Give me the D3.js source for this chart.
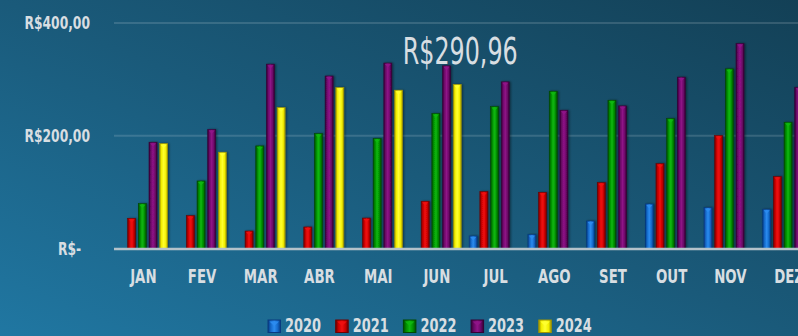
<!DOCTYPE html>
<html>
<head>
<meta charset="utf-8">
<script src="https://cdn.jsdelivr.net/npm/d3@7"></script>
<style>
  html, body { margin: 0; padding: 0; background: #1a5574; overflow: hidden; }
  svg { display: block; }
  text { font-family: "DejaVu Sans Condensed", "DejaVu Sans", sans-serif; font-stretch: condensed; fill: #d8dee2; }
</style>
</head>
<body>
<svg id="chart" width="798" height="336"></svg>
<script>
// Monthly totals per year (R$)
const months = ["JAN", "FEV", "MAR", "ABR", "MAI", "JUN", "JUL", "AGO", "SET", "OUT", "NOV", "DEZ"];
const years = ["2020", "2021", "2022", "2023", "2024"];
const v2020 = [null, null, null, null, null, null, 22.2, 24.5, 48.8, 79.0, 72.4, 69.6];
const v2021 = [53.6, 58.2, 31.0, 38.2, 54.0, 83.8, 100.8, 99.7, 116.8, 150.5, 200.3, 127.5];
const v2022 = [79.5, 119.8, 182.0, 203.8, 195.0, 239.3, 251.7, 279.0, 263.0, 230.4, 318.7, 224.0];
const v2023 = [188.5, 211.0, 327.0, 306.0, 329.0, 324.0, 295.6, 245.3, 253.0, 304.0, 363.6, 286.0];
const v2024 = [186.0, 170.8, 250.0, 285.5, 280.8, 290.96, null, null, null, null, null, null];
const yTicks = [0, 200, 400];
const highlight = { month: "JUN", year: "2024" };

const seriesValues = { "2020": v2020, "2021": v2021, "2022": v2022, "2023": v2023, "2024": v2024 };
const palette = {
  "2020": { light: "#2c8cf0", mid: "#1468c8", dark: "#083a80" },
  "2021": { light: "#f01010", mid: "#c80000", dark: "#6e0000" },
  "2022": { light: "#10b810", mid: "#008c00", dark: "#004a00" },
  "2023": { light: "#901488", mid: "#6a0866", dark: "#360034" },
  "2024": { light: "#ffff30", mid: "#f2ee00", dark: "#a09400" }
};

const svg = d3.select("#chart");
const W = 798, H = 336;
const defs = svg.append("defs");

// Background
const bg = defs.append("linearGradient").attr("id", "bg")
  .attr("x1", "0").attr("y1", "1").attr("x2", "1").attr("y2", "0");
bg.append("stop").attr("offset", "0%").attr("stop-color", "#2077a2");
bg.append("stop").attr("offset", "50%").attr("stop-color", "#1a5a7a");
bg.append("stop").attr("offset", "100%").attr("stop-color", "#134056");
svg.append("rect").attr("width", W).attr("height", H).attr("fill", "url(#bg)");

// Bevelled bar fills
years.forEach(y => {
  const c = palette[y];
  const g = defs.append("linearGradient").attr("id", "bar" + y)
    .attr("x1", "0").attr("y1", "0").attr("x2", "1").attr("y2", "0");
  [[0, c.dark], [0.22, c.mid], [0.5, c.light], [0.78, c.mid], [1, c.dark]]
    .forEach(([o, col]) => g.append("stop").attr("offset", o).attr("stop-color", col));
});
const sh = defs.append("filter").attr("id", "shadow")
  .attr("x", "-50%").attr("y", "-10%").attr("width", "200%").attr("height", "120%");
sh.append("feDropShadow").attr("dx", 1.2).attr("dy", 0).attr("stdDeviation", 1)
  .attr("flood-color", "#000").attr("flood-opacity", 0.45);

// Scales
const x0 = d3.scaleBand().domain(months).range([114, 114 + 12 * 58.7]).padding(0);
const x1 = d3.scaleBand().domain(years).range([3, 53.7]).paddingInner(0.25).paddingOuter(0);
const yScale = d3.scaleLinear().domain([0, 400]).range([248.5, 23]);

// Gridlines
svg.append("g").selectAll("line").data(yTicks.filter(t => t > 0)).join("line")
  .attr("x1", 114).attr("x2", W)
  .attr("y1", d => yScale(d)).attr("y2", d => yScale(d))
  .attr("stroke", "#ffffff").attr("stroke-opacity", 0.14).attr("stroke-width", 2);

// Y axis labels
const yAxis = d3.axisLeft(yScale).tickValues(yTicks).tickSize(0).tickPadding(0)
  .tickFormat(d => d === 0 ? "R$-" : "R$" + d3.format(".2f")(d).replace(".", ","));
const yG = svg.append("g").attr("transform", "translate(90,0)").call(yAxis);
yG.select(".domain").remove();
yG.selectAll("text").attr("font-size", 18.5).attr("font-weight", "bold").attr("fill", "#d8dee2")
  .attr("font-family", null)
  .attr("x", d => d === 0 ? -12 : 0)
  .attr("transform", "scale(0.74,1)");

// Bars
const flat = [];
months.forEach((m, i) => years.forEach(y => {
  const v = seriesValues[y][i];
  if (v != null) flat.push({ month: m, year: y, value: v });
}));

const barsG = svg.append("g");
const bar = barsG.selectAll("g.bar").data(flat).join("g").attr("class", "bar")
  .attr("transform", d => `translate(${x0(d.month) + x1(d.year)},0)`);
const bw = x1.bandwidth();
bar.append("rect")
  .attr("x", 0).attr("width", bw)
  .attr("y", d => yScale(d.value)).attr("height", d => yScale(0) - yScale(d.value))
  .attr("fill", d => `url(#bar${d.year})`)
  .attr("stroke", d => palette[d.year].dark).attr("stroke-width", 0.6)
  .attr("filter", "url(#shadow)");
// bevel cap at the top of each bar
bar.append("path")
  .attr("d", d => {
    const t = yScale(d.value) + 1;
    return `M1,${t} L${bw - 1},${t} L${bw / 2},${t + 3.5} Z`;
  })
  .attr("fill", d => palette[d.year].light).attr("opacity", 0.9);

// Baseline
svg.append("line").attr("x1", 114).attr("x2", W)
  .attr("y1", yScale(0) + 0.5).attr("y2", yScale(0) + 0.5)
  .attr("stroke", "#b4c2ca").attr("stroke-width", 2.6);

// Month labels
const xAxis = d3.axisBottom(x0).tickSize(0).tickPadding(0);
const xG = svg.append("g").attr("transform", "translate(0,283)").call(xAxis);
xG.select(".domain").remove();
xG.selectAll("text").attr("font-size", 19).attr("font-weight", "bold").attr("fill", "#d8dee2")
  .attr("font-family", null).attr("dy", 0).attr("y", 0)
  .attr("transform", "scale(0.78,1)");

// Highlighted value label
const hv = seriesValues[highlight.year][months.indexOf(highlight.month)];
svg.append("text")
  .attr("x", x0(highlight.month) + x1(highlight.year) + bw / 2 + 3)
  .attr("y", yScale(hv) - 20.5)
  .attr("text-anchor", "middle")
  .attr("font-size", 38)
  .attr("textLength", 115).attr("lengthAdjust", "spacingAndGlyphs")
  .text("R$" + d3.format(".2f")(hv).replace(".", ","));

// Legend
const lx = d3.scalePoint().domain(years).range([268, 268 + 4 * 67.7]);
const leg = svg.append("g").selectAll("g").data(years).join("g")
  .attr("transform", d => `translate(${lx(d)},320)`);
leg.append("rect").attr("width", 12.5).attr("height", 12.5)
  .attr("fill", d => `url(#bar${d})`).attr("stroke", d => palette[d].dark).attr("stroke-width", 1);
leg.append("path").attr("d", "M1.5,1.5 L11,1.5 L6.25,6 Z")
  .attr("fill", d => palette[d].light).attr("opacity", 0.9);
leg.append("text").attr("transform", "translate(17,12) scale(0.72,1)")
  .attr("font-size", 20).attr("font-weight", "bold")
  .text(d => d);
</script>
</body>
</html>
